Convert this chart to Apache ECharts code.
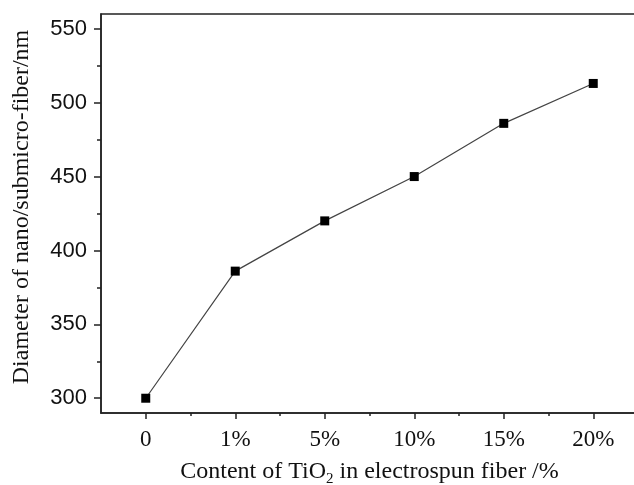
<!DOCTYPE html>
<html>
<head>
<meta charset="utf-8">
<script src="https://cdn.jsdelivr.net/npm/echarts@6/dist/echarts.min.js"></script>
<style>html,body{margin:0;padding:0;background:#fff}#c{width:634px;height:485px}</style>
</head>
<body>
<div id="c"></div>
<script>
var categories = ['0', '1%', '5%', '10%', '15%', '20%'];
var diameters = [300, 386, 420, 450, 486, 513];
var yMajorTicks = [300, 350, 400, 450, 500, 550];
var yMinorTicks = [325, 375, 425, 475, 525];
var xMajorTicks = [0, 1, 2, 3, 4, 5];
var xMinorTicks = [0.5, 1.5, 2.5, 3.5, 4.5];

var chart = echarts.init(document.getElementById('c'), null, {renderer: 'canvas'});
var axisColor = '#222';
var serif = '"Liberation Serif", "Times New Roman", serif';
var sans = '"Liberation Sans", Arial, sans-serif';

var option = {
  backgroundColor: '#fff',
  animation: false,
  grid: {left: 101, top: 14, width: 537, height: 399, show: true, borderColor: axisColor, borderWidth: 1.5,
    backgroundColor: 'transparent', containLabel: false, outerBoundsMode: 'none'},
  xAxis: [{
    type: 'value', min: -0.5, max: 5.5, position: 'bottom',
    axisLine: {show: true, onZero: false, lineStyle: {color: axisColor, width: 1.5}},
    axisTick: {show: true, inside: false, length: 6, customValues: xMajorTicks, lineStyle: {color: axisColor, width: 1.5}},
    axisLabel: {show: true, customValues: xMajorTicks, margin: 15, color: '#111', fontFamily: serif, fontSize: 23,
      formatter: function (v) { return categories[Math.round(v)]; }},
    splitLine: {show: false},
    name: 'Content of TiO{sub|2} in electrospun fiber /%',
    nameLocation: 'middle', nameGap: 44,
    nameTextStyle: {color: '#111', fontFamily: serif, fontSize: 24,
      rich: {sub: {fontFamily: serif, fontSize: 15, color: '#111', padding: [15, 0, 0, 0]}}}
  }, {
    type: 'value', min: -0.5, max: 5.5, position: 'bottom',
    axisLine: {show: false, onZero: false},
    axisTick: {show: true, inside: false, length: 3, customValues: xMinorTicks, lineStyle: {color: axisColor, width: 1.5}},
    axisLabel: {show: false},
    splitLine: {show: false}
  }],
  yAxis: [{
    type: 'value', min: 290, max: 560, position: 'left',
    axisLine: {show: true, onZero: false, lineStyle: {color: axisColor, width: 1.5}},
    axisTick: {show: true, inside: false, length: 7, customValues: yMajorTicks, lineStyle: {color: axisColor, width: 1.5}},
    axisLabel: {show: true, customValues: yMajorTicks, margin: 14, color: '#111', fontFamily: sans, fontSize: 22},
    splitLine: {show: false},
    name: 'Diameter of nano/submicro-fiber/nm',
    nameLocation: 'middle', nameGap: 67,
    nameTextStyle: {color: '#111', fontFamily: serif, fontSize: 24, padding: [0, 0, 0, 13]}
  }, {
    type: 'value', min: 290, max: 560, position: 'left',
    axisLine: {show: false, onZero: false},
    axisTick: {show: true, inside: false, length: 4, customValues: yMinorTicks, lineStyle: {color: axisColor, width: 1.5}},
    axisLabel: {show: false},
    splitLine: {show: false}
  }],
  series: [{
    type: 'line',
    xAxisIndex: 0, yAxisIndex: 0,
    data: diameters.map(function (v, i) { return [i, v]; }),
    symbol: 'rect', symbolSize: 9,
    itemStyle: {color: '#000'},
    lineStyle: {color: '#444', width: 1.2},
    z: 3
  }]
};
chart.setOption(option);
</script>
</body>
</html>
